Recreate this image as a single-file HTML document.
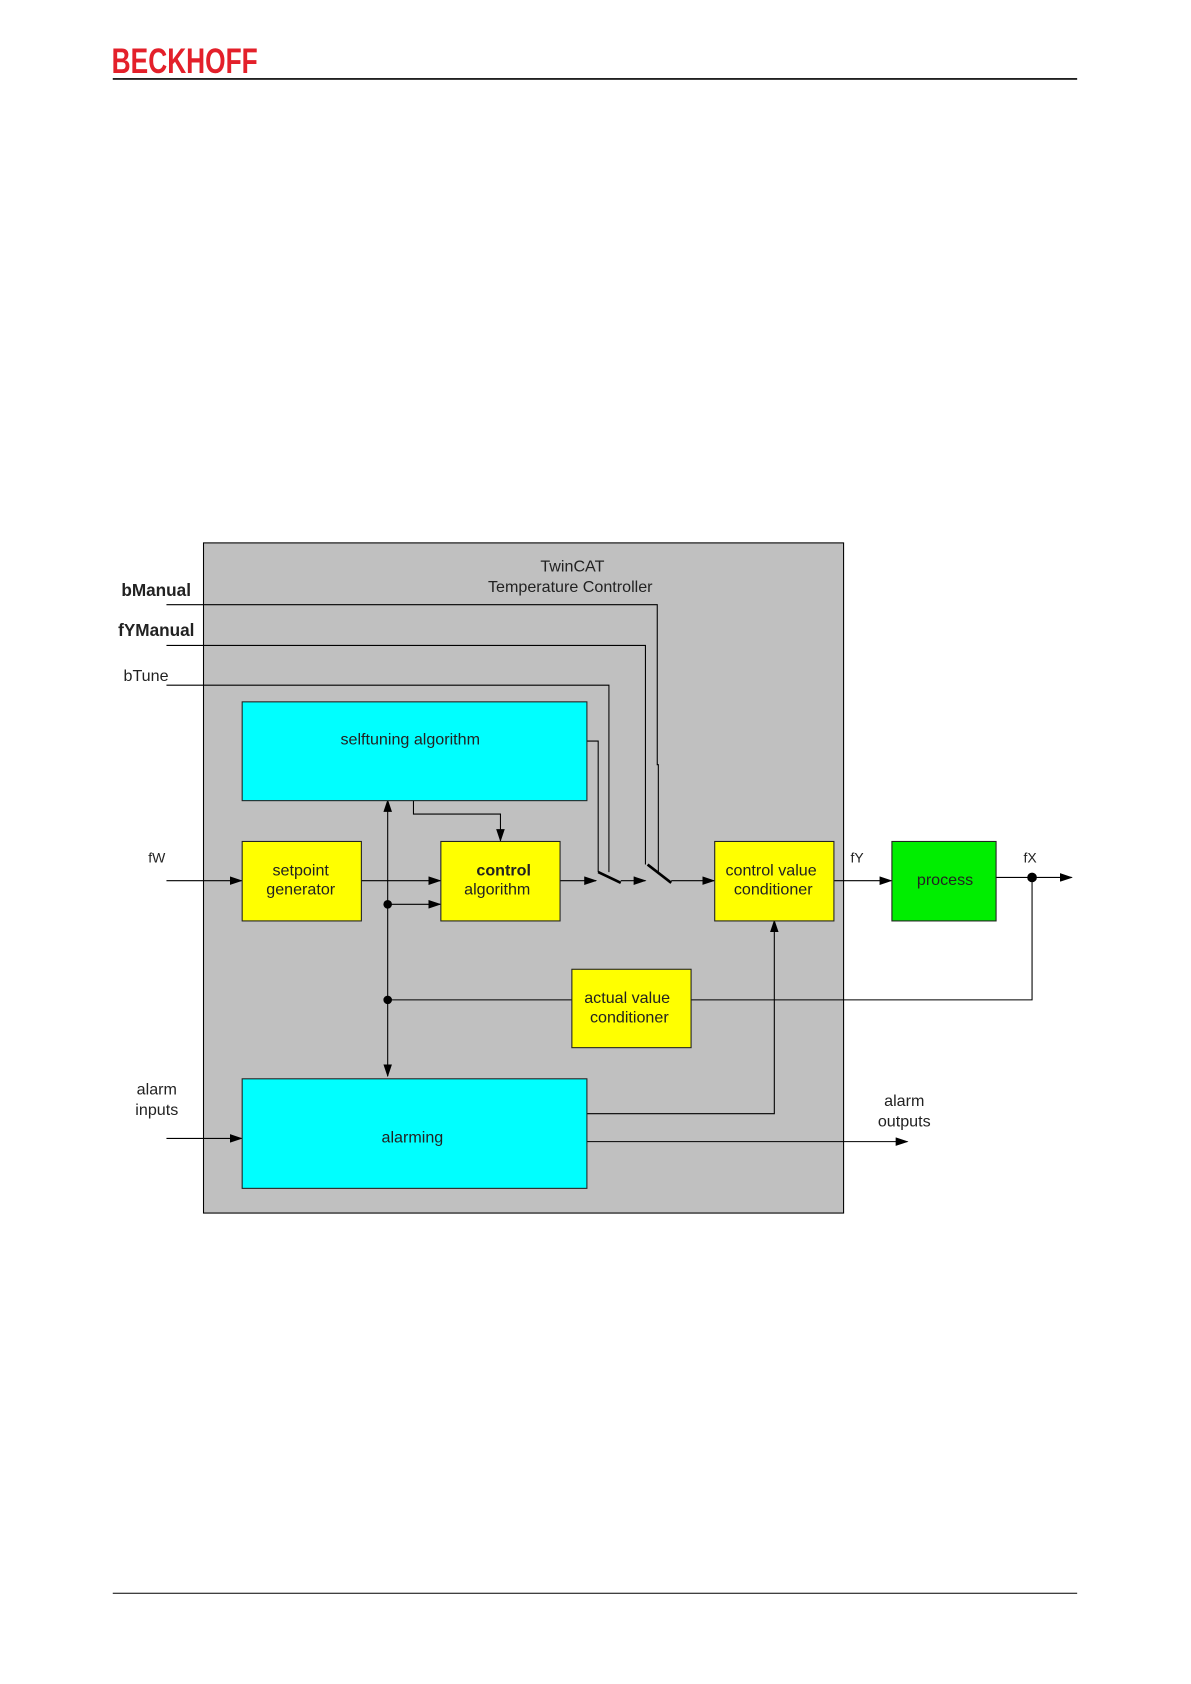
<!DOCTYPE html>
<html><head><meta charset="utf-8"><style>
html,body{margin:0;padding:0;background:#fff;}
svg{display:block;}
text{font-family:"Liberation Sans",Arial,sans-serif;fill:#222;}
</style></head><body>
<svg width="1191" height="1684" viewBox="0 0 1109 1568" preserveAspectRatio="none" xmlns="http://www.w3.org/2000/svg">
<defs>
<marker id="a" markerWidth="12" markerHeight="8" refX="11" refY="4" orient="auto" markerUnits="userSpaceOnUse">
<path d="M0,0 L12,4 L0,8 z" fill="#000"/></marker>
</defs>
<text x="104" y="68" font-size="33" font-weight="bold" fill="#e3202a" style="fill:#e3202a" textLength="136" lengthAdjust="spacingAndGlyphs">BECKHOFF</text>
<line x1="105" y1="73.5" x2="1003" y2="73.5" stroke="#000" stroke-width="1.5"/>
<line x1="105" y1="1483.5" x2="1003" y2="1483.5" stroke="#000" stroke-width="1"/>

<rect x="189.5" y="505.5" width="596" height="624" fill="#c0c0c0" stroke="#000" stroke-width="1"/>
<text x="533" y="532" font-size="15" text-anchor="middle">TwinCAT</text>
<text x="531" y="551" font-size="15" text-anchor="middle">Temperature Controller</text>

<g stroke="#000" stroke-width="1" fill="none">
<polyline points="155,563 612,563 612,712 613,712 613,812"/>
<polyline points="155,601 601,601 601,805"/>
<polyline points="155,638 567,638 567,812"/>
<polyline points="546,690 557,690 557,812"/>
<line x1="155" y1="820" x2="225" y2="820" marker-end="url(#a)"/>
<line x1="336" y1="820" x2="410" y2="820" marker-end="url(#a)"/>
<line x1="361" y1="842" x2="410" y2="842" marker-end="url(#a)"/>
<line x1="361" y1="842" x2="361" y2="745" marker-end="url(#a)"/>
<line x1="361" y1="842" x2="361" y2="1002" marker-end="url(#a)"/>
<polyline points="385,745 385,758 466,758 466,783" marker-end="url(#a)"/>
<line x1="521" y1="820" x2="555" y2="820" marker-end="url(#a)"/>
<line x1="578" y1="820" x2="601" y2="820" marker-end="url(#a)"/>
<line x1="625" y1="820" x2="665" y2="820" marker-end="url(#a)"/>
<line x1="776" y1="820" x2="830" y2="820" marker-end="url(#a)"/>
<line x1="927" y1="817" x2="998" y2="817" marker-end="url(#a)"/>
<polyline points="961,817 961,931 361,931"/>
<polyline points="546,1037 721,1037 721,857" marker-end="url(#a)"/>
<line x1="546" y1="1063" x2="845" y2="1063" marker-end="url(#a)"/>
<line x1="155" y1="1060" x2="225" y2="1060" marker-end="url(#a)"/>
</g>
<g stroke="#000" stroke-width="2.5">
<line x1="557" y1="812" x2="578" y2="822"/>
<line x1="603" y1="805" x2="625" y2="822"/>
</g>
<circle cx="361" cy="842" r="4"/>
<circle cx="361" cy="931" r="4"/>
<circle cx="961" cy="817" r="4.5"/>

<g stroke="#222" stroke-width="1">
<rect x="225.5" y="653.5" width="321" height="92" fill="#00ffff"/>
<rect x="225.5" y="783.5" width="111" height="74" fill="#ffff00"/>
<rect x="410.5" y="783.5" width="111" height="74" fill="#ffff00"/>
<rect x="665.5" y="783.5" width="111" height="74" fill="#ffff00"/>
<rect x="830.5" y="783.5" width="97" height="74" fill="#00ee00"/>
<rect x="532.5" y="902.5" width="111" height="73" fill="#ffff00"/>
<rect x="225.5" y="1004.5" width="321" height="102" fill="#00ffff"/>
</g>

<g font-size="15" text-anchor="middle">
<text x="382" y="693">selftuning algorithm</text>
<text x="280" y="815">setpoint</text>
<text x="280" y="833">generator</text>
<text x="469" y="815" font-weight="bold">control</text>
<text x="463" y="833">algorithm</text>
<text x="718" y="815">control value</text>
<text x="720" y="833">conditioner</text>
<text x="880" y="824">process</text>
<text x="584" y="934">actual value</text>
<text x="586" y="952">conditioner</text>
<text x="384" y="1064">alarming</text>
<text x="146" y="1019">alarm</text>
<text x="146" y="1038">inputs</text>
<text x="842" y="1030">alarm</text>
<text x="842" y="1049">outputs</text>
</g>
<text x="113" y="555" font-size="16" font-weight="bold">bManual</text>
<text x="110" y="592" font-size="16" font-weight="bold">fYManual</text>
<text x="115" y="634" font-size="15">bTune</text>
<text x="138" y="803" font-size="13">fW</text>
<text x="792" y="803" font-size="13">fY</text>
<text x="953" y="803" font-size="13">fX</text>
</svg>
</body></html>
